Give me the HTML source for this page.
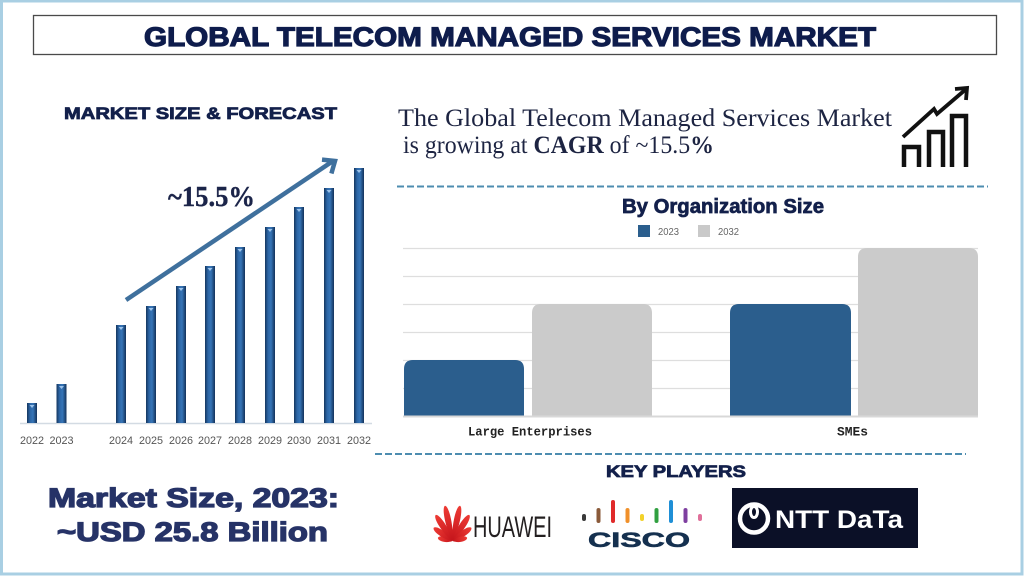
<!DOCTYPE html>
<html>
<head>
<meta charset="utf-8">
<style>
  html,body{margin:0;padding:0;background:#fff;}
  svg{display:block;}
</style>
</head>
<body>
<svg width="1024" height="576" viewBox="0 0 1024 576" xmlns="http://www.w3.org/2000/svg">
  <defs>
    <linearGradient id="bg" x1="0" y1="0" x2="1" y2="0">
      <stop offset="0" stop-color="#15365e"/>
      <stop offset="0.3" stop-color="#2c65a5"/>
      <stop offset="0.6" stop-color="#3675b7"/>
      <stop offset="1" stop-color="#13325a"/>
    </linearGradient>
    <linearGradient id="hw" x1="0" y1="0" x2="0" y2="1">
      <stop offset="0" stop-color="#ee3b35"/>
      <stop offset="1" stop-color="#c4141b"/>
    </linearGradient>
  </defs>

  <!-- background -->
  <rect x="0" y="0" width="1024" height="576" fill="#ffffff"/>
  <rect x="1.5" y="1" width="1020.5" height="573" fill="none" stroke="#a9cfe3" stroke-width="3"/>

  <!-- title -->
  <rect x="33.5" y="15.5" width="963" height="39" fill="#fff" stroke="#4a4a4a" stroke-width="1.3"/>
  <text x="144" y="46" font-family="Liberation Sans, Arial, sans-serif" font-weight="bold" font-size="26.5" fill="#0e1c4c" stroke="#0e1c4c" stroke-width="1.2" textLength="732" lengthAdjust="spacingAndGlyphs">GLOBAL TELECOM MANAGED SERVICES MARKET</text>

  <!-- left section -->
  <text x="64" y="119" font-family="Liberation Sans, Arial, sans-serif" font-weight="bold" font-size="17" fill="#13204b" stroke="#13204b" stroke-width="0.8" textLength="273" lengthAdjust="spacingAndGlyphs">MARKET SIZE &amp; FORECAST</text>

  <!-- axis line -->
  <line x1="20" y1="423.5" x2="372" y2="423.5" stroke="#d3dbe3" stroke-width="1.5"/>

  <!-- bars -->
  <g fill="url(#bg)">
    <rect x="27" y="403" width="10" height="20"/>
    <rect x="56.5" y="384" width="10" height="39"/>
    <rect x="116" y="325" width="10" height="98"/>
    <rect x="146" y="306" width="10" height="117"/>
    <rect x="176" y="286" width="10" height="137"/>
    <rect x="205" y="266" width="10" height="157"/>
    <rect x="235" y="247" width="10" height="176"/>
    <rect x="265" y="227" width="10" height="196"/>
    <rect x="294" y="207" width="10" height="216"/>
    <rect x="324" y="188" width="10" height="235"/>
    <rect x="354" y="168" width="10" height="255"/>
  </g>
  <g fill="#9cc2ea">
    <polygon points="29.5,405 34.5,405 32,408"/>
    <polygon points="59,386 64,386 61.5,389"/>
    <polygon points="118.5,327 123.5,327 121,330"/>
    <polygon points="148.5,308 153.5,308 151,311"/>
    <polygon points="178.5,288 183.5,288 181,291"/>
    <polygon points="207.5,268 212.5,268 210,271"/>
    <polygon points="237.5,249 242.5,249 240,252"/>
    <polygon points="267.5,229 272.5,229 270,232"/>
    <polygon points="296.5,209 301.5,209 299,212"/>
    <polygon points="326.5,190 331.5,190 329,193"/>
    <polygon points="356.5,170 361.5,170 359,173"/>
  </g>

  <!-- year labels -->
  <g font-family="Liberation Sans, Arial, sans-serif" font-size="10.8" fill="#555" text-anchor="middle">
    <text x="32" y="444">2022</text>
    <text x="61.5" y="444">2023</text>
    <text x="121" y="444">2024</text>
    <text x="151" y="444">2025</text>
    <text x="181" y="444">2026</text>
    <text x="210" y="444">2027</text>
    <text x="240" y="444">2028</text>
    <text x="270" y="444">2029</text>
    <text x="299" y="444">2030</text>
    <text x="329" y="444">2031</text>
    <text x="359" y="444">2032</text>
  </g>

  <!-- growth arrow -->
  <line x1="126" y1="300" x2="333" y2="161" stroke="#3f709d" stroke-width="4.5"/>
  <polyline points="322,159.6 335,161 331.4,173.5" fill="none" stroke="#3f709d" stroke-width="4.5" stroke-linejoin="miter"/>
  <text x="168" y="206" font-family="Liberation Serif, 'Times New Roman', serif" font-weight="bold" font-size="28" fill="#1b2449" stroke="#1b2449" stroke-width="0.4" textLength="87" lengthAdjust="spacingAndGlyphs">~15.5%</text>

  <!-- market size -->
  <text x="48" y="507" font-family="Liberation Sans, Arial, sans-serif" font-weight="bold" font-size="27" fill="#263367" stroke="#263367" stroke-width="1.3" textLength="291" lengthAdjust="spacingAndGlyphs">Market Size, 2023:</text>
  <text x="57" y="541" font-family="Liberation Sans, Arial, sans-serif" font-weight="bold" font-size="27" fill="#263367" stroke="#263367" stroke-width="1.3" textLength="271" lengthAdjust="spacingAndGlyphs">~USD 25.8 Billion</text>

  <!-- right header text -->
  <text x="398" y="126" font-family="Liberation Serif, 'Times New Roman', serif" font-size="25" fill="#1d2442" textLength="494" lengthAdjust="spacingAndGlyphs">The Global Telecom Managed Services Market</text>
  <text x="403" y="153" font-family="Liberation Serif, 'Times New Roman', serif" font-size="25" fill="#1d2442" textLength="311" lengthAdjust="spacingAndGlyphs">is growing at <tspan font-weight="bold">CAGR</tspan> of ~15.5<tspan font-weight="bold">%</tspan></text>

  <!-- icon -->
  <g fill="none" stroke="#111" stroke-width="4.5" stroke-linejoin="miter">
    <path d="M904,167 V147 H919 V167"/>
    <path d="M929,167 V132 H943 V167"/>
    <path d="M952,167 V116 H966 V167"/>
  </g>
  <g fill="none" stroke="#111" stroke-width="3.8" stroke-linejoin="miter" stroke-linecap="butt">
    <path d="M903,137 L934,109 L937,114 L965,90"/>
    <path d="M955,89 L967,88 L966,100"/>
  </g>

  <!-- dashed separators -->
  <line x1="397" y1="186.5" x2="988" y2="186.5" stroke="#4d8db0" stroke-width="2" stroke-dasharray="7 3"/>
  <line x1="375" y1="454" x2="966" y2="454" stroke="#4d8db0" stroke-width="2" stroke-dasharray="7 3"/>

  <!-- org size chart -->
  <text x="622" y="213" font-family="Liberation Sans, Arial, sans-serif" font-weight="bold" font-size="20" fill="#13204b" stroke="#13204b" stroke-width="0.7" textLength="202" lengthAdjust="spacingAndGlyphs">By Organization Size</text>
  <rect x="638" y="225" width="12" height="12" fill="#2b5e8d"/>
  <text x="658" y="235" font-family="Liberation Sans, Arial, sans-serif" font-size="10" fill="#666" textLength="21" lengthAdjust="spacingAndGlyphs">2023</text>
  <rect x="698" y="225" width="12" height="12" fill="#c9c9c9"/>
  <text x="718" y="235" font-family="Liberation Sans, Arial, sans-serif" font-size="10" fill="#666" textLength="21" lengthAdjust="spacingAndGlyphs">2032</text>

  <g stroke="#dedede" stroke-width="1.2">
    <line x1="403" y1="248.5" x2="978" y2="248.5"/>
    <line x1="403" y1="276.5" x2="978" y2="276.5"/>
    <line x1="403" y1="304.5" x2="978" y2="304.5"/>
    <line x1="403" y1="332.5" x2="978" y2="332.5"/>
    <line x1="403" y1="360.5" x2="978" y2="360.5"/>
    <line x1="403" y1="388.5" x2="978" y2="388.5"/>
  </g>

  <path d="M404,416 V369 Q404,360 413,360 H515 Q524,360 524,369 V416 Z" fill="#2b5e8d"/>
  <path d="M532,416 V313 Q532,304 541,304 H643 Q652,304 652,313 V416 Z" fill="#cbcbcb"/>
  <path d="M730,416 V313 Q730,304 739,304 H842 Q851,304 851,313 V416 Z" fill="#2b5e8d"/>
  <path d="M858,416 V257 Q858,248 867,248 H969 Q978,248 978,257 V416 Z" fill="#cbcbcb"/>
  <line x1="403" y1="416.5" x2="978" y2="416.5" stroke="#d8d8d8" stroke-width="2"/>

  <text x="468" y="435.5" font-family="Liberation Mono, 'Courier New', monospace" font-weight="bold" font-size="12.5" fill="#222" textLength="124" lengthAdjust="spacingAndGlyphs">Large Enterprises</text>
  <text x="837" y="435.5" font-family="Liberation Mono, 'Courier New', monospace" font-weight="bold" font-size="12.5" fill="#222" textLength="31" lengthAdjust="spacingAndGlyphs">SMEs</text>

  <!-- key players -->
  <text x="606" y="477" font-family="Liberation Sans, Arial, sans-serif" font-weight="bold" font-size="17" fill="#13204b" stroke="#13204b" stroke-width="0.8" textLength="140" lengthAdjust="spacingAndGlyphs">KEY PLAYERS</text>

  <!-- Huawei -->
  <g fill="url(#hw)" transform="translate(452.5,541)">
    <path d="M0,0 C-3.5,-5 -3.5,-14 0,-15 C3.5,-14 3.5,-5 0,0 Z" transform="rotate(-78)"/>
    <path d="M0,0 C-4,-8 -4,-22 0,-23 C4,-22 4,-8 0,0 Z" transform="rotate(-55)"/>
    <path d="M0,0 C-4.2,-11 -4,-30 0,-31 C4,-30 4.2,-11 0,0 Z" transform="rotate(-33)"/>
    <path d="M0,0 C-4.2,-13 -4,-35 0,-36 C4,-35 4.2,-13 0,0 Z" transform="rotate(-12)"/>
    <path d="M0,0 C-4.2,-13 -4,-35 0,-36 C4,-35 4.2,-13 0,0 Z" transform="rotate(12)"/>
    <path d="M0,0 C-4.2,-11 -4,-30 0,-31 C4,-30 4.2,-11 0,0 Z" transform="rotate(33)"/>
    <path d="M0,0 C-4,-8 -4,-22 0,-23 C4,-22 4,-8 0,0 Z" transform="rotate(55)"/>
    <path d="M0,0 C-3.5,-5 -3.5,-14 0,-15 C3.5,-14 3.5,-5 0,0 Z" transform="rotate(78)"/>
  </g>
  <text x="473" y="537" font-family="Liberation Sans, Arial, sans-serif" font-size="30" fill="#231f20" textLength="79" lengthAdjust="spacingAndGlyphs">HUAWEI</text>

  <!-- Cisco -->
  <g stroke-width="4" stroke-linecap="round">
    <line x1="584" y1="516" x2="584" y2="519" stroke="#3a3a3a"/>
    <line x1="598.5" y1="510" x2="598.5" y2="521" stroke="#8a5a3a"/>
    <line x1="613" y1="502" x2="613" y2="521" stroke="#e02a2a"/>
    <line x1="627.5" y1="510" x2="627.5" y2="521" stroke="#f0902a"/>
    <line x1="642" y1="516" x2="642" y2="519" stroke="#f2d22a"/>
    <line x1="656.5" y1="510" x2="656.5" y2="521" stroke="#30a040"/>
    <line x1="671" y1="502" x2="671" y2="521" stroke="#1f8fd6"/>
    <line x1="685.5" y1="510" x2="685.5" y2="521" stroke="#7e3fa0"/>
    <line x1="700" y1="516" x2="700" y2="519" stroke="#e0709a"/>
  </g>
  <text x="588" y="547" font-family="Liberation Sans, Arial, sans-serif" font-weight="bold" font-size="21" fill="#15304f" stroke="#15304f" stroke-width="0.6" textLength="102" lengthAdjust="spacingAndGlyphs">CISCO</text>

  <!-- NTT DATA -->
  <rect x="732" y="488" width="186" height="60" fill="#0b1027"/>
  <circle cx="754" cy="518.5" r="14" fill="none" stroke="#fff" stroke-width="4.5"/>
  <ellipse cx="754" cy="512" rx="3.5" ry="5.5" fill="none" stroke="#fff" stroke-width="3"/>
  <text x="775" y="528" font-family="Liberation Sans, Arial, sans-serif" font-weight="bold" font-size="25" fill="#fff" textLength="128" lengthAdjust="spacingAndGlyphs">NTT DaTa</text>
</svg>
</body>
</html>
